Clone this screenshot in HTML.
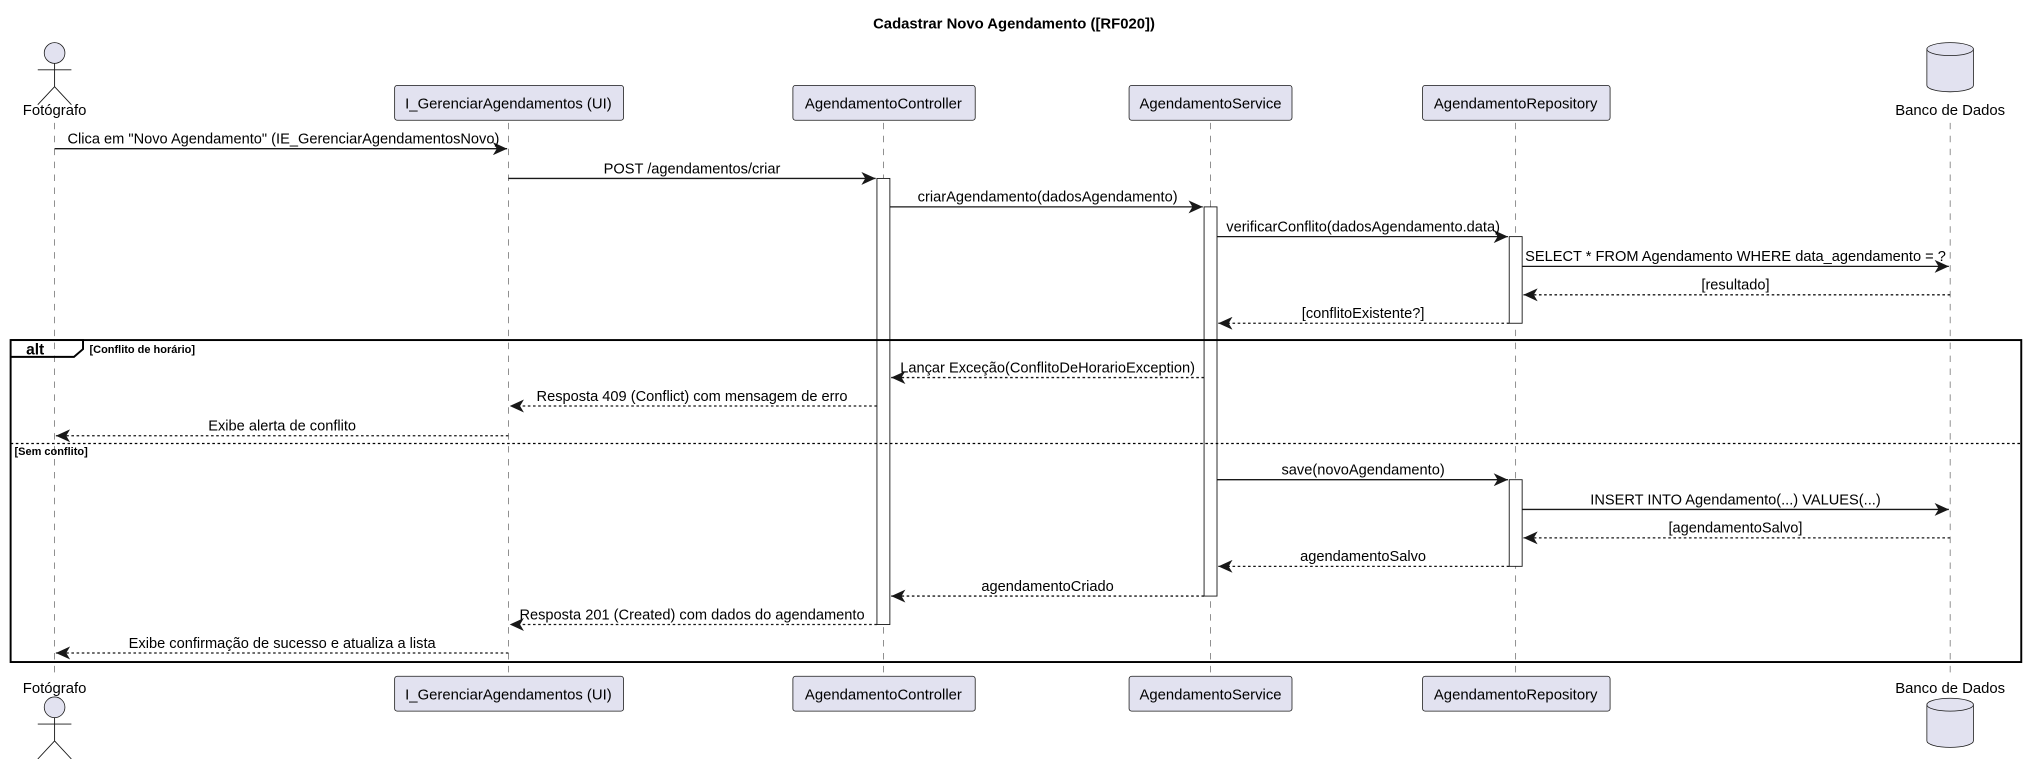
<!DOCTYPE html>
<html><head><meta charset="utf-8"><style>html,body{margin:0;padding:0;background:#fff}svg{display:block}</style></head><body>
<svg width="2028" height="759" viewBox="0 0 1568 587" xmlns="http://www.w3.org/2000/svg" font-family="Liberation Sans, DejaVu Sans, sans-serif">
<defs>
<marker id="a" markerWidth="12" markerHeight="10" refX="11" refY="5" orient="auto" markerUnits="userSpaceOnUse"><path d="M0,0 L11,5 L0,10 L3,5 Z" fill="#181818"/></marker>
</defs>
<text x="784" y="22" text-anchor="middle" font-size="11.5" font-weight="bold">Cadastrar Novo Agendamento ([RF020])</text>
<g stroke="#555" stroke-width="0.5" stroke-dasharray="5,5">
<line x1="42" y1="95" x2="42" y2="522"/><line x1="393" y1="95" x2="393" y2="522"/><line x1="683" y1="95" x2="683" y2="522"/><line x1="936" y1="95" x2="936" y2="522"/><line x1="1172" y1="95" x2="1172" y2="522"/><line x1="1508" y1="95" x2="1508" y2="522"/>
</g>
<g fill="#e2e2f0" stroke="#181818" stroke-width="0.6">
<rect x="305" y="66" width="177" height="27" rx="2"/><rect x="613" y="66" width="141" height="27" rx="2"/><rect x="873" y="66" width="126" height="27" rx="2"/><rect x="1100" y="66" width="145" height="27" rx="2"/>
<rect x="305" y="523" width="177" height="27" rx="2"/><rect x="613" y="523" width="141" height="27" rx="2"/><rect x="873" y="523" width="126" height="27" rx="2"/><rect x="1100" y="523" width="145" height="27" rx="2"/>
<circle cx="42" cy="41" r="8"/><circle cx="42" cy="547" r="8"/>
<path d="M1490,38 v28 a18,5 0 0 0 36,0 v-28 a18,5 0 0 0 -36,0 a18,5 0 0 0 36,0"/>
<path d="M1490,545 v28 a18,5 0 0 0 36,0 v-28 a18,5 0 0 0 -36,0 a18,5 0 0 0 36,0"/>
</g>
<g stroke="#181818" stroke-width="0.7" fill="none">
<path d="M42,49 v18 M29,54 h26 M42,67 l-13,14 M42,67 l13,14"/>
<path d="M42,555 v18 M29,560 h26 M42,573 l-13,14 M42,573 l13,14"/>
</g>
<g font-size="11.5" text-anchor="middle" fill="#000">
<text x="42" y="89">Fotógrafo</text><text x="393" y="84">I_GerenciarAgendamentos (UI)</text><text x="683" y="84">AgendamentoController</text><text x="936" y="84">AgendamentoService</text><text x="1172" y="84">AgendamentoRepository</text><text x="1508" y="89">Banco de Dados</text>
<text x="42" y="536">Fotógrafo</text><text x="393" y="541">I_GerenciarAgendamentos (UI)</text><text x="683" y="541">AgendamentoController</text><text x="936" y="541">AgendamentoService</text><text x="1172" y="541">AgendamentoRepository</text><text x="1508" y="536">Banco de Dados</text>
</g>
<g fill="#fff" stroke="#181818" stroke-width="0.7">
<rect x="678" y="138" width="10" height="345"/><rect x="931" y="160" width="10" height="301"/><rect x="1167" y="183" width="10" height="67"/><rect x="1167" y="371" width="10" height="67"/>
</g>
<rect x="8" y="263" width="1555" height="249" fill="none" stroke="#000" stroke-width="1.5"/>
<path d="M8,263 H64 V270 L57,276 H8" fill="none" stroke="#000" stroke-width="1.5"/>
<text x="20" y="274" font-size="12" font-weight="bold">alt</text>
<text x="69" y="273" font-size="8.5" font-weight="bold">[Conflito de horário]</text>
<line x1="8" y1="343" x2="1563" y2="343" stroke="#000" stroke-width="1" stroke-dasharray="2,2"/>
<text x="11" y="352" font-size="8.5" font-weight="bold">[Sem conflito]</text>
<g stroke="#181818" stroke-width="1" marker-end="url(#a)">
<line x1="42" y1="115" x2="392" y2="115"/><line x1="393" y1="138" x2="677" y2="138"/><line x1="688" y1="160" x2="930" y2="160"/><line x1="941" y1="183" x2="1166" y2="183"/><line x1="1177" y1="206" x2="1507" y2="206"/>
<line x1="941" y1="371" x2="1166" y2="371"/><line x1="1177" y1="394" x2="1507" y2="394"/>
</g>
<g stroke="#181818" stroke-width="1" stroke-dasharray="2,2" marker-end="url(#a)">
<line x1="1508" y1="228" x2="1178" y2="228"/><line x1="1167" y1="250" x2="942" y2="250"/><line x1="931" y1="292" x2="689" y2="292"/><line x1="678" y1="314" x2="394" y2="314"/><line x1="393" y1="337" x2="43" y2="337"/>
<line x1="1508" y1="416" x2="1178" y2="416"/><line x1="1167" y1="438" x2="942" y2="438"/><line x1="931" y1="461" x2="689" y2="461"/><line x1="678" y1="483" x2="394" y2="483"/><line x1="393" y1="505" x2="43" y2="505"/>
</g>
<g font-size="11.3" text-anchor="middle" fill="#000">
<text x="219" y="111">Clica em "Novo Agendamento" (IE_GerenciarAgendamentosNovo)</text>
<text x="535" y="134">POST /agendamentos/criar</text>
<text x="810" y="156">criarAgendamento(dadosAgendamento)</text>
<text x="1054" y="179">verificarConflito(dadosAgendamento.data)</text>
<text x="1342" y="202">SELECT * FROM Agendamento WHERE data_agendamento = ?</text>
<text x="1342" y="224">[resultado]</text>
<text x="1054" y="246">[conflitoExistente?]</text>
<text x="810" y="288">Lançar Exceção(ConflitoDeHorarioException)</text>
<text x="535" y="310">Resposta 409 (Conflict) com mensagem de erro</text>
<text x="218" y="333">Exibe alerta de conflito</text>
<text x="1054" y="367">save(novoAgendamento)</text>
<text x="1342" y="390">INSERT INTO Agendamento(...) VALUES(...)</text>
<text x="1342" y="412">[agendamentoSalvo]</text>
<text x="1054" y="434">agendamentoSalvo</text>
<text x="810" y="457">agendamentoCriado</text>
<text x="535" y="479">Resposta 201 (Created) com dados do agendamento</text>
<text x="218" y="501">Exibe confirmação de sucesso e atualiza a lista</text>
</g>
</svg>
</body></html>
